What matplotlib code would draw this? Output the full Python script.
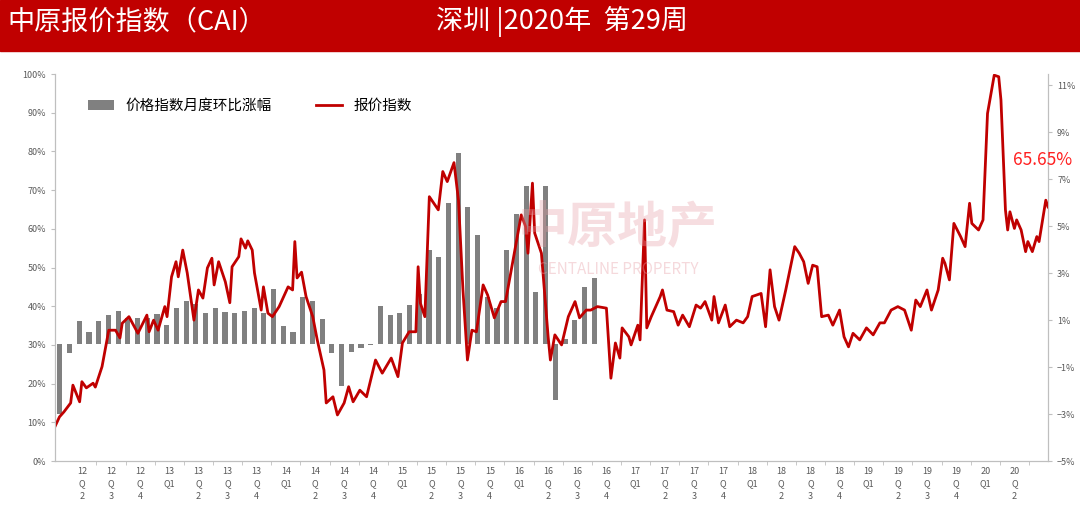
import numpy as np
import matplotlib.pyplot as plt
from matplotlib.patches import Rectangle

plt.rcParams['font.family'] = ['Noto Sans CJK SC', 'DejaVu Sans']
plt.rcParams['axes.unicode_minus'] = False

# weekly index (weeks since start of 2012) and 报价指数 values (%)
line_weeks = [0, 2, 4, 7, 8, 11, 12, 14, 17, 18, 21, 24, 27, 29, 30, 33, 37, 41, 42, 44,
              46, 49, 50, 52, 54, 55, 57, 59, 62, 64, 66, 68, 70, 71, 73, 76, 78, 79, 82, 83,
              85, 86, 88, 89, 92, 93, 95, 97, 100, 104, 106, 107, 108, 110, 112, 115, 117, 120, 121, 124,
              126, 129, 131, 133, 136, 139, 143, 146, 150, 153, 155, 158, 161, 162, 163, 165, 167, 171, 173, 175,
              178, 180, 182, 184, 186, 188, 191, 193, 196, 199, 201, 203, 208, 210, 211, 213, 214, 217, 220, 221,
              223, 226, 229, 232, 234, 237, 239, 242, 246, 248, 250, 252, 253, 256, 257, 260, 261, 263, 264, 266,
              270, 271, 273, 276, 278, 280, 283, 286, 288, 290, 293, 294, 296, 299, 301, 304, 307, 309, 311, 315,
              317, 319, 321, 323, 326, 330, 332, 334, 336, 338, 340, 342, 345, 347, 350, 352, 354, 356, 359, 362,
              365, 368, 370, 373, 376, 379, 382, 384, 386, 389, 391, 394, 396, 397, 399, 401, 404, 406, 408, 409,
              412, 414, 416, 419, 421, 422, 424, 425, 426, 428, 429, 431, 433, 434, 436, 438, 439, 442, 443]
line_vals = [8.9, 11.4, 12.7, 15.0, 19.6, 15.3, 20.5, 18.9, 20.1, 19.1, 24.4, 33.8, 33.8, 31.8, 35.6, 37.3, 33.0, 37.7, 33.4, 36.4,
             33.8, 39.9, 37.3, 47.6, 51.5, 47.6, 54.5, 48.6, 36.4, 44.2, 42.1, 49.9, 52.4, 45.5, 51.5, 46.3, 40.9, 50.2, 52.8, 57.4,
             55.0, 56.9, 54.5, 48.6, 39.0, 45.0, 38.2, 37.3, 39.9, 45.0, 44.2, 56.7, 47.3, 48.8, 42.5, 37.3, 31.3, 23.5, 15.0, 16.6,
             11.9, 15.0, 19.2, 15.3, 18.3, 16.6, 26.1, 22.7, 26.6, 21.8, 30.5, 33.4, 33.4, 50.2, 40.8, 37.3, 68.3, 64.9, 74.8, 72.2,
             77.1, 67.4, 44.2, 26.1, 33.8, 33.4, 45.5, 42.9, 37.0, 41.2, 41.2, 47.6, 63.6, 60.5, 53.7, 71.8, 58.9, 53.7, 32.1, 26.1,
             32.6, 30.0, 37.3, 41.2, 37.0, 39.0, 39.0, 39.9, 39.5, 21.4, 30.5, 26.6, 34.4, 32.1, 30.0, 35.1, 31.3, 62.3, 34.4, 37.3,
             42.5, 44.2, 39.0, 38.6, 35.1, 37.7, 34.7, 40.3, 39.5, 41.2, 36.4, 42.5, 35.7, 40.3, 34.7, 36.4, 35.7, 37.3, 42.5, 43.3,
             34.7, 49.4, 39.9, 36.4, 44.2, 55.4, 53.7, 51.5, 45.9, 50.6, 50.2, 37.3, 37.7, 35.1, 39.0, 32.1, 29.5, 33.0, 31.3, 34.4,
             32.6, 35.7, 35.7, 39.0, 39.9, 39.0, 33.8, 41.6, 39.9, 44.2, 39.0, 44.2, 52.4, 51.1, 46.8, 61.4, 58.0, 55.4, 66.6, 61.4,
             59.7, 62.3, 89.8, 99.7, 99.3, 93.3, 64.9, 59.7, 64.4, 60.1, 62.3, 59.7, 54.1, 56.7, 54.1, 58.0, 56.7, 67.4, 65.65]

# 价格指数月度环比涨幅 (%), monthly from Jan 2012
bar_vals = [-3.0, -0.4, 0.95, 0.5, 0.95, 1.2, 1.4, 1.1, 1.1, 1.1, 1.25, 0.8, 1.5, 1.8, 1.7, 1.3, 1.5, 1.35, 1.3, 1.4,
            1.5, 1.3, 2.3, 0.75, 0.5, 2.0, 1.8, 1.05, -0.4, -1.8, -0.35, -0.2, -0.05, 1.6, 1.2, 1.3, 1.65, 2.1, 4.0, 3.7,
            6.0, 8.1, 5.8, 4.6, 2.0, 1.5, 4.0, 5.5, 6.7, 2.2, 6.7, -2.4, 0.2, 1.0, 2.4, 2.8]
bar_weeks = 2.2 + np.arange(len(bar_vals)) * 52 / 12

quarters = ['12\nQ\n2', '12\nQ\n3', '12\nQ\n4']
for yy in range(13, 21):
    quarters += [f'{yy}\nQ1', f'{yy}\nQ\n2', f'{yy}\nQ\n3', f'{yy}\nQ\n4']
quarters = quarters[:33]
tick_weeks = 12 + 13 * np.arange(len(quarters))

fig = plt.figure(figsize=(10.8, 5.07), dpi=100)
fig.patches.append(Rectangle((0, 0.9), 1, 0.1, transform=fig.transFigure, color='#C00000', zorder=0))
fig.text(0.007, 0.957, '中原报价指数（CAI）', color='white', fontsize=19.5, va='center')
fig.text(0.52, 0.957, '深圳 |2020年  第29周', color='white', fontsize=19.5, va='center', ha='center')

ax = fig.add_axes([0.0509, 0.0907, 0.9195, 0.7633])
ax2 = ax.twinx()
ax.set_zorder(ax2.get_zorder() + 1)
ax.patch.set_visible(False)

ax2.bar(bar_weeks, bar_vals, width=2.3, color='#808080', label='价格指数月度环比涨幅')
ax2.set_ylim(-5, 11.47)
ax2.set_yticks(range(-5, 12, 2))
ax2.set_yticklabels([f'{v}%'.replace('-', '−') for v in range(-5, 12, 2)])

ax.plot(line_weeks, line_vals, color='#C00000', lw=2, label='报价指数')
ax.set_ylim(0, 100)
ax.set_xlim(0, 443)
ax.set_yticks(range(0, 101, 10))
ax.set_yticklabels([f'{v}%' for v in range(0, 101, 10)])
ax.set_xticks(tick_weeks)
ax.set_xticklabels(quarters, linespacing=1.5)
ax.set_xticks(tick_weeks + 6.5, minor=True)
ax.tick_params(axis='x', which='major', length=0, labelsize=6.5, colors='#595959', pad=4)
ax.tick_params(axis='x', which='minor', length=3, color='#BFBFBF')
ax.tick_params(axis='y', labelsize=6.5, colors='#595959', length=3, color='#BFBFBF')
ax2.tick_params(axis='y', labelsize=6.5, colors='#595959', length=3, color='#BFBFBF')

for a in (ax, ax2):
    a.spines['top'].set_visible(False)
    for s in ('left', 'right', 'bottom'):
        a.spines[s].set_color('#BFBFBF')

# watermark
ax.text(0.567, 0.6, '中原地产', transform=ax.transAxes, fontsize=36, color='#E8A0A8',
        alpha=0.35, ha='center', va='center', fontweight='bold')
ax.text(0.567, 0.495, 'CENTALINE PROPERTY', transform=ax.transAxes, fontsize=11, color='#E8A0A8',
        alpha=0.4, ha='center', va='center')

ax.text(1.024, 0.778, '65.65%', transform=ax.transAxes, fontsize=12.5, color='#FF2020',
        ha='right', va='center')

h1, l1 = ax2.get_legend_handles_labels()
h2, l2 = ax.get_legend_handles_labels()
ax.legend(h1 + h2, l1 + l2, loc='upper left', bbox_to_anchor=(0.02, 0.97), ncol=2,
          frameon=False, fontsize=10.5, columnspacing=3, handlelength=1.8)

fig.savefig('out.png', dpi=100)
